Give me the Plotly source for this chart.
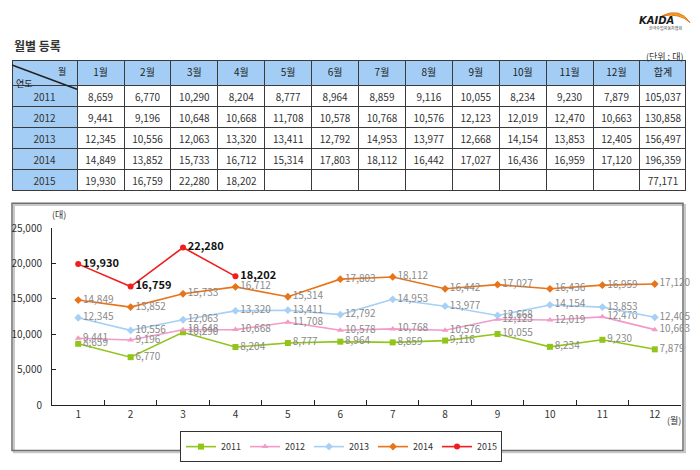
import plotly.graph_objects as go

W, H = 700, 470
FONT = "Noto Sans CJK KR"

months = ["1", "2", "3", "4", "5", "6", "7", "8", "9", "10", "11", "12"]
month_headers = ["1월", "2월", "3월", "4월", "5월", "6월", "7월", "8월", "9월", "10월", "11월", "12월"]
years = ["2011", "2012", "2013", "2014", "2015"]
y2011 = [8659, 6770, 10290, 8204, 8777, 8964, 8859, 9116, 10055, 8234, 9230, 7879]
y2012 = [9441, 9196, 10648, 10668, 11708, 10578, 10768, 10576, 12123, 12019, 12470, 10663]
y2013 = [12345, 10556, 12063, 13320, 13411, 12792, 14953, 13977, 12668, 14154, 13853, 12405]
y2014 = [14849, 13852, 15733, 16712, 15314, 17803, 18112, 16442, 17027, 16436, 16959, 17120]
y2015 = [19930, 16759, 22280, 18202]
totals = [105037, 130858, 156497, 196359, 77171]

series = [y2011, y2012, y2013, y2014, y2015]
colors = ["#92C51B", "#F39AC8", "#A6D0F5", "#E8741A", "#F01E1E"]
symbols = ["square", "triangle-up", "diamond", "diamond", "circle"]


def px(x):
    return x / W


def py(y):
    return 1 - y / H


fig = go.Figure()

# ---- table ----
def fmt(v):
    return f"{v:,}"

columns = [years]
for m in range(12):
    col = []
    for s in series:
        col.append(fmt(s[m]) if m < len(s) else "")
    columns.append(col)
columns.append([fmt(t) for t in totals])

blue = "#A3CDF5"
fill_cols = [[blue] * 5] + [["white"] * 5] * 13

fig.add_trace(go.Table(
    domain=dict(x=[px(12), px(686)], y=[py(196), py(53)]),
    columnwidth=[65] + [46.8] * 12 + [46],
    header=dict(values=[""] + month_headers + ["합계"],
                fill_color=blue, line=dict(color="#3a3a3a", width=1),
                align="center", height=25,
                font=dict(family=FONT, size=10, color="#222")),
    cells=dict(values=columns, fill_color=fill_cols,
               line=dict(color="#3a3a3a", width=1),
               align="center", height=21,
               font=dict(family=FONT, size=10, color="#333")),
))

# ---- lines ----
for i, (yr, s) in enumerate(zip(years, series)):
    last = yr == "2015"
    fig.add_trace(go.Scatter(
        x=months[:len(s)], y=s, name=yr, mode="lines+markers+text",
        line=dict(color=colors[i], width=1.6),
        marker=dict(symbol=symbols[i], size=6, color=colors[i]),
        texttemplate="<b>%{y:,}</b>" if last else "%{y:,}",
        textposition="middle right",
        textfont=dict(family=FONT, size=11 if last else 10,
                      color="#111" if last else "#8a8a8a"),
        cliponaxis=False,
    ))

fig.update_xaxes(
    type="category", categoryorder="array", categoryarray=months,
    range=[-0.5, 11.5], domain=[px(52), px(681)],
    showline=True, linecolor="#222", linewidth=1,
    ticks="inside", tickson="boundaries", ticklen=5, tickcolor="#222",
    showgrid=False, zeroline=False,
    tickfont=dict(family=FONT, size=10, color="#333"),
)
fig.update_yaxes(
    range=[0, 25000], domain=[py(410), py(227)], dtick=5000,
    tickformat=",", showline=True, linecolor="#222", linewidth=1,
    ticks="inside", ticklen=4, tickcolor="#222",
    showgrid=False, zeroline=False, ticklabelstandoff=7,
    tickfont=dict(family=FONT, size=10, color="#333"),
)

shapes = [
    # chart frame shadow + frame
    dict(type="rect", xref="paper", yref="paper", x0=px(14), x1=px(685), y0=py(459), y1=py(203),
         line=dict(color="#c8c8c8", width=2), layer="below"),
    dict(type="rect", xref="paper", yref="paper", x0=px(12), x1=px(683), y0=py(457), y1=py(201),
         line=dict(color="#6f6f6f", width=1.5), layer="below"),
    # diagonal in header
    dict(type="line", xref="paper", yref="paper", x0=px(12), y0=py(58), x1=px(77), y1=py(83),
         line=dict(color="#222", width=1.5)),
    # logo swoosh
    dict(type="path", xref="paper", yref="paper",
         path=f"M {px(662)} {py(7)} Q {px(680)} {py(-2)} {px(690)} {py(14)} Q {px(680)} {py(4)} {px(662)} {py(7)} Z",
         fillcolor="#F3A21C", line=dict(color="#E8741A", width=1)),
]

annotations = [
    dict(text="<b>월별 등록</b>", x=px(12), y=py(38), xanchor="left", yanchor="middle",
         font=dict(family=FONT, size=12, color="#333")),
    dict(text="(단위 : 대)", x=px(685), y=py(49), xanchor="right", yanchor="middle",
         font=dict(family=FONT, size=9, color="#333")),
    dict(text="월", x=px(62), y=py(65), xanchor="center", yanchor="middle",
         font=dict(family=FONT, size=9, color="#222")),
    dict(text="연도", x=px(24), y=py(77), xanchor="center", yanchor="middle",
         font=dict(family=FONT, size=9, color="#222")),
    dict(text="(대)", x=px(59), y=py(213), xanchor="center", yanchor="middle",
         font=dict(family=FONT, size=9, color="#333")),
    dict(text="(월)", x=px(674), y=py(426), xanchor="center", yanchor="middle",
         font=dict(family=FONT, size=9, color="#333")),
    dict(text="<b><i>KAIDA</i></b>", x=px(656), y=py(12), xanchor="center", yanchor="middle",
         font=dict(family="DejaVu Sans", size=10, color="#1a1a1a")),
    dict(text="한국수입자동차협회", x=px(665), y=py(20), xanchor="center", yanchor="middle",
         font=dict(family=FONT, size=4, color="#333")),
]
for a in annotations:
    a.update(xref="paper", yref="paper", showarrow=False)

fig.update_layout(
    width=W, height=H, margin=dict(l=0, r=0, t=0, b=0),
    paper_bgcolor="white", plot_bgcolor="white",
    font=dict(family=FONT),
    shapes=shapes, annotations=annotations,
    legend=dict(orientation="h", x=px(341), y=py(437), xanchor="center", yanchor="top",
                bordercolor="#333", borderwidth=1, bgcolor="white",
                font=dict(family=FONT, size=9, color="#333"),
                itemwidth=30, entrywidth=19, tracegroupgap=0),
)

fig.write_html("out.html")
